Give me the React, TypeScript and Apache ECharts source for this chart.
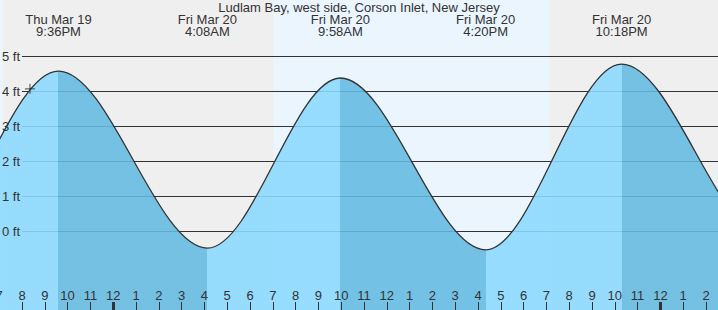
import React, { useEffect, useRef } from 'react';
import * as echarts from 'echarts';

// ---- data (hours relative to midnight, Fri Mar 20) ----
const TITLE = 'Ludlam Bay, west side, Corson Inlet, New Jersey';
// high / low tide extremes (first two and last two lie outside the visible window)
const TIDE_TIMES = [-14.8, -8.6, -2.4, 4.1333, 9.9667, 16.3333, 22.3, 28.8, 35.0];
const TIDE_HEIGHTS = [4.5, -0.6, 4.57, -0.49, 4.37, -0.54, 4.77, -0.3, 4.4];
const TIDE_DAYS = ['', '', 'Thu Mar 19', 'Fri Mar 20', 'Fri Mar 20', 'Fri Mar 20', 'Fri Mar 20', '', ''];
const TIDE_CLOCK = ['', '', '9:36PM', '4:08AM', '9:58AM', '4:20PM', '10:18PM', '', ''];
const SUNRISE = [-16.97, 7.02];
const SUNSET = [-4.83, 19.15];
const HEIGHT_TICKS = [0, 1, 2, 3, 4, 5];
const MIDNIGHTS = [0, 24];
const NOW_POINT = [-3.65, 4.06];

const X_MIN = -5;
const X_MAX = 27;
const Y_MIN = -2.26;
const Y_MAX = 6.6;

const NIGHT = '#efefef';
const DAY = '#eaf5fe';
const RISE = '#8ad9ff';
const FALL = '#63bae2';
const INK = '#333333';
const FONT = '"Liberation Sans", Arial, sans-serif';

const EVENT_IDX = TIDE_TIMES.map((_, i) => i).filter((i) => TIDE_CLOCK[i] !== '');
const EVENT_TIMES = EVENT_IDX.map((i) => TIDE_TIMES[i]);

function hourLabel(v: number): string {
  const h = ((Math.round(v) % 12) + 12) % 12;
  return String(h === 0 ? 12 : h);
}

function eventLabel(v: number): string {
  const k = EVENT_IDX.find((i) => Math.abs(TIDE_TIMES[i] - v) < 1e-6);
  return k === undefined ? '' : TIDE_DAYS[k] + '\n' + TIDE_CLOCK[k];
}

export default function App() {
  const ref = useRef<HTMLDivElement>(null);
  useEffect(() => {
    if (!ref.current) return;
    const chart = echarts.init(ref.current, null, { renderer: 'svg' });
    const pieces = TIDE_TIMES.slice(0, -1).map((t, i) => ({
      gte: t,
      lte: TIDE_TIMES[i + 1],
      color: TIDE_HEIGHTS[i + 1] > TIDE_HEIGHTS[i] ? RISE : FALL,
    }));
    const noLine = { show: false, onZero: false };
    const option: any = {
      animation: false,
      backgroundColor: NIGHT,
      title: {
        text: TITLE,
        left: 'center',
        top: 1,
        padding: 0,
        textStyle: { fontFamily: FONT, fontSize: 13, lineHeight: 13, fontWeight: 'normal', color: INK },
      },
      grid: [
        { left: -0.8, right: -10.8, top: 0, bottom: 0, containLabel: false, outerBoundsMode: 'none' },
        { left: 22, right: 0, top: 56, bottom: 79, containLabel: false, outerBoundsMode: 'none' },
      ],
      xAxis: [
        {
          gridIndex: 0, type: 'value', min: X_MIN, max: X_MAX, interval: 1, position: 'bottom', z: 10,
          axisLine: noLine, splitLine: { show: false },
          axisTick: { inside: true, length: 8, lineStyle: { color: INK, width: 1 } },
          axisLabel: { inside: true, margin: 8, color: INK, fontSize: 13, fontFamily: FONT, formatter: hourLabel },
        },
        {
          gridIndex: 0, type: 'value', min: X_MIN, max: X_MAX, position: 'bottom', z: 10,
          axisLine: noLine, splitLine: { show: false }, axisLabel: { show: false },
          axisTick: { inside: true, length: 8, customValues: MIDNIGHTS, lineStyle: { color: INK, width: 3 } },
        },
        {
          gridIndex: 0, type: 'value', min: X_MIN, max: X_MAX, position: 'top', z: 10,
          axisLine: noLine, splitLine: { show: false }, axisTick: { show: false },
          axisLabel: {
            inside: true, customValues: EVENT_TIMES, formatter: eventLabel, margin: 13,
            color: INK, fontSize: 13, lineHeight: 12.5, fontFamily: FONT, verticalAlign: 'top', align: 'center',
          },
        },
        { gridIndex: 1, type: 'value', min: 0, max: 1, show: false, axisLine: noLine },
      ],
      yAxis: [
        { gridIndex: 0, type: 'value', min: Y_MIN, max: Y_MAX, show: false, axisLine: noLine },
        {
          gridIndex: 1, type: 'value', min: HEIGHT_TICKS[0], max: HEIGHT_TICKS[HEIGHT_TICKS.length - 1], interval: 1,
          axisLine: noLine, axisTick: { show: false }, axisLabel: { show: false },
          splitLine: { show: true, lineStyle: { color: INK, width: 1 } },
        },
        {
          gridIndex: 1, type: 'value', position: 'left', z: 10,
          min: HEIGHT_TICKS[0], max: HEIGHT_TICKS[HEIGHT_TICKS.length - 1], interval: 1,
          axisLine: noLine, axisTick: { show: false }, splitLine: { show: false },
          axisLabel: { formatter: '{value} ft', margin: 2, color: INK, fontSize: 13, fontFamily: FONT },
        },
      ],
      visualMap: { type: 'piecewise', show: false, dimension: 0, seriesIndex: 1, pieces },
      series: [
        {
          type: 'line', xAxisIndex: 0, yAxisIndex: 0, data: [], silent: true,
          markArea: {
            silent: true, z: -1,
            itemStyle: { color: DAY },
            data: SUNRISE.map((r, i) => [{ xAxis: r }, { xAxis: SUNSET[i] }]),
          },
        },
        {
          type: 'line', xAxisIndex: 0, yAxisIndex: 0, z: 2,
          data: TIDE_TIMES.map((t, i) => [t, TIDE_HEIGHTS[i]]),
          smooth: 0.34, smoothMonotone: 'x', showSymbol: false, symbol: 'none',
          lineStyle: { color: INK, width: 1.3 },
          areaStyle: { opacity: 0.88, origin: 'start' },
        },
        {
          type: 'scatter', xAxisIndex: 0, yAxisIndex: 0, z: 5,
          data: [NOW_POINT],
          symbol: 'path://M0,5H10M5,0V10', symbolSize: 10,
          itemStyle: { color: 'none', borderColor: '#222', borderWidth: 1 },
        },
      ],
    };
    chart.setOption(option);
    return () => chart.dispose();
  }, []);
  return <div ref={ref} style={{ position: 'absolute', left: 0, top: 0, width: 718, height: 310 }} />;
}
